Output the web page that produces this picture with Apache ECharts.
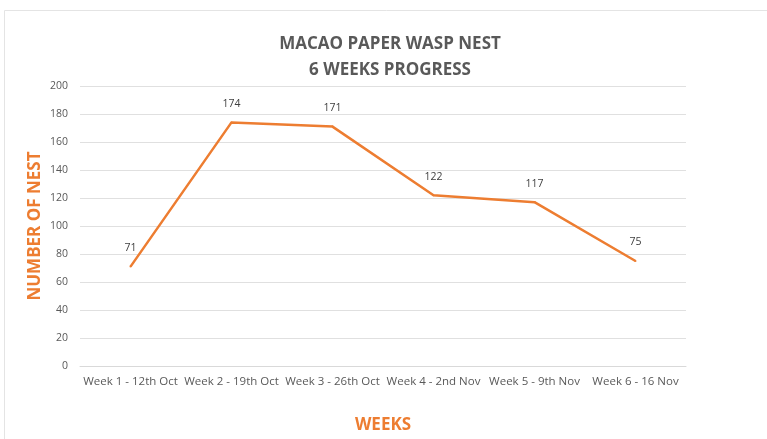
<!DOCTYPE html>
<html><head><meta charset="utf-8">
<script src="https://cdn.jsdelivr.net/npm/echarts@6/dist/echarts.min.js"></script>
<style>html,body{margin:0;padding:0;background:#fff}#c{width:767px;height:439px}</style>
</head><body><div id="c"></div>
<script>
const categories = ['Week 1 - 12th Oct','Week 2 - 19th Oct','Week 3 - 26th Oct','Week 4 - 2nd Nov','Week 5 - 9th Nov','Week 6 - 16 Nov'];
const nests = [71, 174, 171, 122, 117, 75];
const yTicks = {min: 0, max: 200, interval: 20};

const chart = echarts.init(document.getElementById('c'));
chart.setOption({
  animation: false,
  backgroundColor: '#fff',
  graphic: [{type: 'rect', shape: {x: 4.5, y: 10.5, width: 770, height: 440}, style: {fill: 'none', stroke: '#e4e4e4', lineWidth: 1}, silent: true}],
  title: {
    text: 'MACAO PAPER WASP NEST\n6 WEEKS PROGRESS',
    left: 385, top: 26, textAlign: 'center',
    textStyle: {fontFamily: 'Open Sans', fontSize: 17, fontWeight: 700, color: '#595959', lineHeight: 26}
  },
  grid: {left: 80, right: 81, top: 86, bottom: 73, containLabel: false},
  xAxis: {
    type: 'category', data: categories, boundaryGap: true,
    axisLine: {lineStyle: {color: '#d9d9d9'}}, axisTick: {show: false},
    axisLabel: {color: '#595959', fontFamily: 'Open Sans', fontSize: 11.5, interval: 0, margin: 10},
    name: 'WEEKS', nameLocation: 'middle', nameGap: 51,
    nameTextStyle: {color: '#ED7D31', fontFamily: 'Open Sans', fontSize: 17, fontWeight: 700}
  },
  yAxis: {
    type: 'value', min: yTicks.min, max: yTicks.max, interval: yTicks.interval,
    axisLine: {show: false}, axisTick: {show: false},
    splitLine: {lineStyle: {color: '#e0e0e0'}},
    axisLabel: {color: '#595959', fontFamily: 'Open Sans', fontSize: 10.5, margin: 12},
    name: 'NUMBER OF NEST', nameLocation: 'middle', nameGap: 36, nameRotate: 90, nameMoveOverlap: false,
    nameTextStyle: {color: '#ED7D31', fontFamily: 'Open Sans', fontSize: 17, fontWeight: 700}
  },
  series: [{
    type: 'line', data: nests, symbol: 'circle', symbolSize: 2, showSymbol: true,
    lineStyle: {color: '#ED7D31', width: 2.5},
    itemStyle: {color: '#ED7D31'},
    label: {show: true, position: 'top', distance: 12, color: '#404040', opacity: 1, fontFamily: 'Open Sans', fontSize: 10.5}
  }]
});
</script></body></html>
